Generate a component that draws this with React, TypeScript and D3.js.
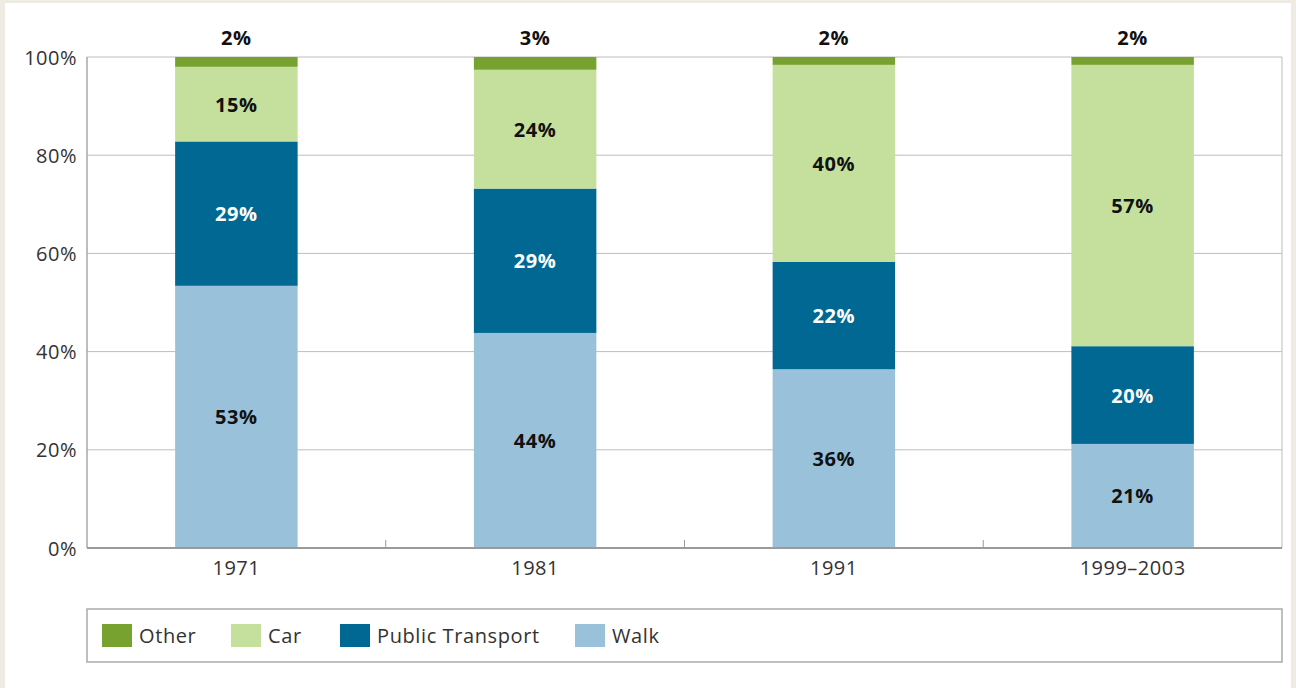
import React from "react";
import * as d3 from "d3";

const categories = ["1971", "1981", "1991", "1999–2003"];
const walk = [53.4, 43.8, 36.4, 21.2];
const publicTransport = [29.4, 29.4, 21.9, 19.9];
const car = [15.2, 24.2, 40.1, 57.3];
const other = [2.0, 2.6, 1.6, 1.6];
const yTicks = [0, 20, 40, 60, 80, 100];

const seriesNames = ["Walk", "Public Transport", "Car", "Other"];
const seriesColors: Record<string, string> = {
  Walk: "#99c1da",
  "Public Transport": "#006892",
  Car: "#c5df9c",
  Other: "#78a22f",
};
const labelColors: Record<string, string> = {
  Walk: "#111",
  "Public Transport": "#fff",
  Car: "#111",
  Other: "#111",
};
const legendOrder = ["Other", "Car", "Public Transport", "Walk"];

const W = 1296;
const H = 688;
const M = { left: 87, right: 1282, top: 57, bottom: 548 };
const FONT = "'Open Sans', Lato, sans-serif";

export default function App() {
  const rows = categories.map((c, i) => ({
    cat: c,
    Walk: walk[i],
    "Public Transport": publicTransport[i],
    Car: car[i],
    Other: other[i],
  }));
  const stack = d3.stack<any>().keys(seriesNames).offset(d3.stackOffsetExpand);
  const series = stack(rows);

  const x = d3.scaleBand<string>().domain(categories).range([M.left, M.right]).paddingInner(0.59).paddingOuter(0.295);
  const xOuter = d3.scaleBand<string>().domain(categories).range([M.left, M.right]);
  const y = d3.scaleLinear().domain([0, 100]).range([M.bottom, M.top]);

  const legendX = [102, 231, 340, 575];

  return (
    <svg width={W} height={H} style={{ position: "absolute", left: 0, top: 0 }} fontFamily={FONT}>
      <rect x={0} y={0} width={W} height={H} fill="#eeebe3" />
      <rect x={5} y={3} width={1286} height={H} fill="#ffffff" />
      {/* grid */}
      {yTicks.map((t) => (
        <line key={t} x1={M.left} x2={M.right} y1={y(t)} y2={y(t)} stroke={t === 0 ? "#9a9a9a" : "#bdbdbd"} strokeWidth={t === 0 ? 2 : 1} />
      ))}
      <line x1={M.left} x2={M.left} y1={M.top} y2={M.bottom} stroke="#a8a8a8" strokeWidth={1.5} />
      <line x1={M.right} x2={M.right} y1={M.top} y2={M.bottom} stroke="#bdbdbd" strokeWidth={1} />
      {/* category separator ticks */}
      {categories.slice(1).map((c) => (
        <line key={c} x1={xOuter(c)!} x2={xOuter(c)!} y1={M.bottom - 8} y2={M.bottom} stroke="#9a9a9a" strokeWidth={1} />
      ))}
      {/* bars */}
      {series.map((s) =>
        s.map((d, i) => (
          <rect
            key={s.key + i}
            x={x(categories[i])!}
            width={x.bandwidth()}
            y={y(d[1] * 100)}
            height={y(d[0] * 100) - y(d[1] * 100)}
            fill={seriesColors[s.key]}
          />
        ))
      )}
      <line x1={M.left} x2={M.right} y1={M.bottom} y2={M.bottom} stroke="#9a9a9a" strokeWidth={2} />
      {/* value labels */}
      {series.map((s) =>
        s.map((d, i) => {
          const raw = (rows[i] as any)[s.key] as number;
          const cx = x(categories[i])! + x.bandwidth() / 2;
          const cy = s.key === "Other" ? y(100) - 20 : (y(d[0] * 100) + y(d[1] * 100)) / 2;
          return (
            <text
              key={"l" + s.key + i}
              x={cx}
              y={cy}
              textAnchor="middle"
              dominantBaseline="central"
              fontSize={20}
              fontWeight={700}
              letterSpacing={0.6}
              fill={labelColors[s.key]}
            >
              {Math.round(raw)}%
            </text>
          );
        })
      )}
      {/* y axis labels */}
      {yTicks.map((t) => (
        <text key={"y" + t} x={77} y={y(t)} textAnchor="end" dominantBaseline="central" fontSize={20} fill="#333" letterSpacing={0.5}>
          {t}%
        </text>
      ))}
      {/* x axis labels */}
      {categories.map((c) => (
        <text key={"x" + c} x={x(c)! + x.bandwidth() / 2} y={575} textAnchor="middle" fontSize={20} fill="#333" letterSpacing={0.5}>
          {c}
        </text>
      ))}
      {/* legend */}
      <rect x={M.left} y={609} width={M.right - M.left} height={53} fill="#fff" stroke="#aaaaaa" strokeWidth={1.5} />
      {legendOrder.map((k, i) => (
        <g key={k}>
          <rect x={legendX[i]} y={624} width={30} height={23} fill={seriesColors[k]} />
          <text x={legendX[i] + 37} y={643} fontSize={20} fill="#333" letterSpacing={0.6}>
            {k}
          </text>
        </g>
      ))}
    </svg>
  );
}
